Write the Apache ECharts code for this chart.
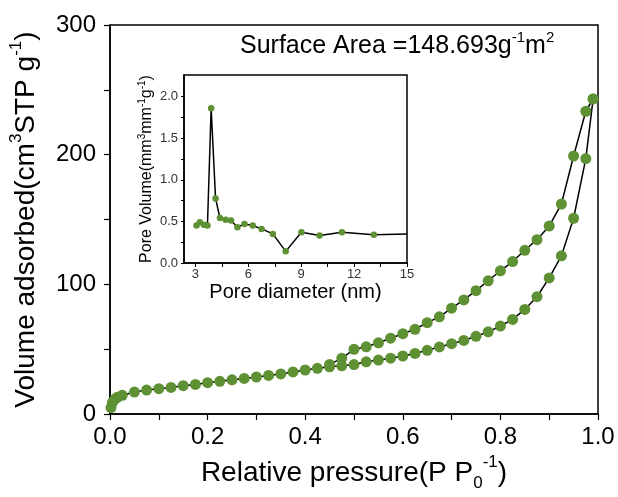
<!DOCTYPE html>
<html>
<head>
<meta charset="utf-8">
<script src="https://cdn.jsdelivr.net/npm/echarts@6/dist/echarts.min.js"></script>
<style>html,body{margin:0;padding:0;background:#fff}#c{width:618px;height:497px}</style>
</head>
<body>
<div id="c"></div>
<script>
// Adsorption branch (relative pressure, volume adsorbed)
const adsX = [0.002,0.005,0.01,0.015,0.025,0.05,0.075,0.1,0.125,0.15,0.175,0.2,0.225,0.25,0.275,0.3,0.325,0.35,0.375,0.4,0.425,0.45,0.475,0.5,0.525,0.55,0.575,0.6,0.625,0.65,0.675,0.7,0.725,0.75,0.775,0.8,0.825,0.85,0.875,0.9,0.925,0.95,0.975,0.99];
const adsY = [5,9,11.5,13,14.5,17,18.5,19.6,20.6,21.9,22.9,24.2,25.3,26.4,27.5,28.6,29.8,31,32.5,34,35.3,36.5,37.2,38.2,40.3,41.7,43.1,44.8,46.8,49.2,51.8,54.3,56.8,60,63.4,67.9,73,80.7,90.5,105,122,151,197,243];
// Desorption branch
const desX = [0.99,0.975,0.95,0.925,0.9,0.875,0.85,0.825,0.8,0.775,0.75,0.725,0.7,0.675,0.65,0.625,0.6,0.575,0.55,0.525,0.5,0.475,0.45];
const desY = [243,233.5,199,162,145,134.5,126.3,117.6,110.5,102.8,95.2,88,81.7,75,70.5,65.4,62,58.5,55,51.9,50,43,38.3];
// Pore size distribution (inset)
const psdX = [3.06,3.25,3.48,3.68,3.89,4.14,4.39,4.71,5.02,5.38,5.78,6.25,6.75,7.39,8.12,9.01,10.04,11.31,13.12,15];
const psdY = [0.45,0.49,0.46,0.45,1.86,0.776,0.54,0.52,0.51,0.43,0.47,0.45,0.41,0.35,0.14,0.37,0.33,0.37,0.34,0.35];
// Tick labels
const mainXLabels = [0,0.2,0.4,0.6,0.8,1.0];
const mainYLabels = [0,100,200,300];
const insetXLabels = [3,6,9,12,15];
const insetYLabels = [0,0.5,1.0,1.5,2.0];

const FONT = '"Liberation Sans", Arial, sans-serif';
const GREEN = '#5e9133';

const pair = (xs, ys) => xs.map((x, i) => [x, ys[i]]);
const psdData = pair(psdX, psdY).map((p, i) => i === psdX.length - 1 ? {value: p, symbol: 'none'} : p);

const chart = echarts.init(document.getElementById('c'));
chart.setOption({
  backgroundColor: '#fff',
  animation: false,
  textStyle: {fontFamily: FONT},
  grid: [
    {left: 109, right: 20, top: 25, bottom: 79, show: true, borderColor: '#000', borderWidth: 1.5, backgroundColor: 'transparent'},
    {left: 184, right: 211, top: 75, bottom: 234, show: true, borderColor: '#000', borderWidth: 1.5, backgroundColor: '#fff'}
  ],
  xAxis: [
    {
      gridIndex: 0, type: 'value', min: 0, max: 1, interval: 0.1,
      axisLine: {lineStyle: {color: '#000', width: 1.5}},
      axisTick: {length: 6, lineStyle: {color: '#000', width: 1.2}},
      splitLine: {show: false},
      axisLabel: {color: '#000', fontSize: 24, margin: 11, fontFamily: FONT,
        formatter: v => { const r = Math.round(v * 10); return r % 2 === 0 && mainXLabels.includes(r / 10) ? (r / 10).toFixed(1) : ''; }},
      name: '{a|Relative pressure(P P}{sub|0}{sup|-1}{a|)}',
      nameLocation: 'middle', nameGap: 33,
      nameTextStyle: {rich: {
        a: {fontSize: 28, color: '#000', fontFamily: FONT, lineHeight: 38},
        sub: {fontSize: 17, color: '#000', fontFamily: FONT, verticalAlign: 'bottom', lineHeight: 38},
        sup: {fontSize: 17, color: '#000', fontFamily: FONT, verticalAlign: 'top', lineHeight: 38}
      }}
    },
    {
      gridIndex: 1, type: 'value', min: 2.35, max: 15,
      axisLine: {lineStyle: {color: '#000', width: 1.5}},
      axisTick: {length: 4, lineStyle: {color: '#000'}, customValues: [3,4.5,6,7.5,9,10.5,12,13.5,15]},
      splitLine: {show: false},
      axisLabel: {color: '#333', fontSize: 13, margin: 5, fontFamily: FONT, customValues: insetXLabels},
      name: 'Pore diameter (nm)', nameLocation: 'middle', nameGap: 19,
      nameTextStyle: {fontSize: 20, color: '#000', fontFamily: FONT}
    }
  ],
  yAxis: [
    {
      gridIndex: 0, type: 'value', min: 0, max: 300, interval: 50,
      axisLine: {show: true, lineStyle: {color: '#000', width: 1.5}},
      axisTick: {show: true, length: 6, lineStyle: {color: '#000', width: 1.2}},
      splitLine: {show: false},
      axisLabel: {color: '#000', fontSize: 24, margin: 14, fontFamily: FONT,
        formatter: v => mainYLabels.includes(v) ? String(v) : ''},
      name: '{a|Volume adsorbed(cm}{sup|3}{a|STP g}{sup|-1}{a|)}',
      nameLocation: 'middle', nameGap: 66, nameRotate: 90,
      nameTextStyle: {rich: {
        a: {fontSize: 28, color: '#000', fontFamily: FONT, lineHeight: 36},
        sup: {fontSize: 17, color: '#000', fontFamily: FONT, verticalAlign: 'top', lineHeight: 36}
      }}
    },
    {
      gridIndex: 1, type: 'value', min: 0, max: 2.26,
      axisLine: {show: true, lineStyle: {color: '#000', width: 1.5}},
      axisTick: {show: true, length: 3, lineStyle: {color: '#000'}, customValues: [0,0.25,0.5,0.75,1,1.25,1.5,1.75,2]},
      splitLine: {show: false},
      axisLabel: {color: '#333', fontSize: 13, margin: 6, fontFamily: FONT, customValues: insetYLabels,
        formatter: v => v.toFixed(1)},
      name: '{a|Pore Volume(mm}{sup|3}{a|mm}{sup|-1}{a|g}{sup|-1}{a|)}',
      nameLocation: 'middle', nameGap: 27, nameRotate: 90,
      nameTextStyle: {rich: {
        a: {fontSize: 16, color: '#000', fontFamily: FONT, lineHeight: 20},
        sup: {fontSize: 10, color: '#000', fontFamily: FONT, verticalAlign: 'top', lineHeight: 20}
      }}
    }
  ],
  graphic: [{
    type: 'text', left: 240, top: 30, z: 10,
    style: {
      text: '{a|Surface Area =148.693g}{sup|-1}{a|m}{sup|2}',
      rich: {
        a: {fontSize: 25, fill: '#000', fontFamily: FONT, lineHeight: 32},
        sup: {fontSize: 15, fill: '#000', fontFamily: FONT, verticalAlign: 'top', lineHeight: 32}
      }
    }
  }],
  series: [
    {type: 'line', xAxisIndex: 0, yAxisIndex: 0, data: pair(adsX, adsY), symbol: 'circle', symbolSize: 11,
      itemStyle: {color: GREEN}, lineStyle: {color: '#000', width: 1.5}, z: 3},
    {type: 'line', xAxisIndex: 0, yAxisIndex: 0, data: pair(desX, desY), symbol: 'circle', symbolSize: 11,
      itemStyle: {color: GREEN}, lineStyle: {color: '#000', width: 1.5}, z: 3},
    {type: 'line', xAxisIndex: 1, yAxisIndex: 1, data: psdData, symbol: 'circle', symbolSize: 6.5,
      itemStyle: {color: GREEN}, lineStyle: {color: '#000', width: 1.5}, z: 5}
  ]
});
</script>
</body>
</html>
